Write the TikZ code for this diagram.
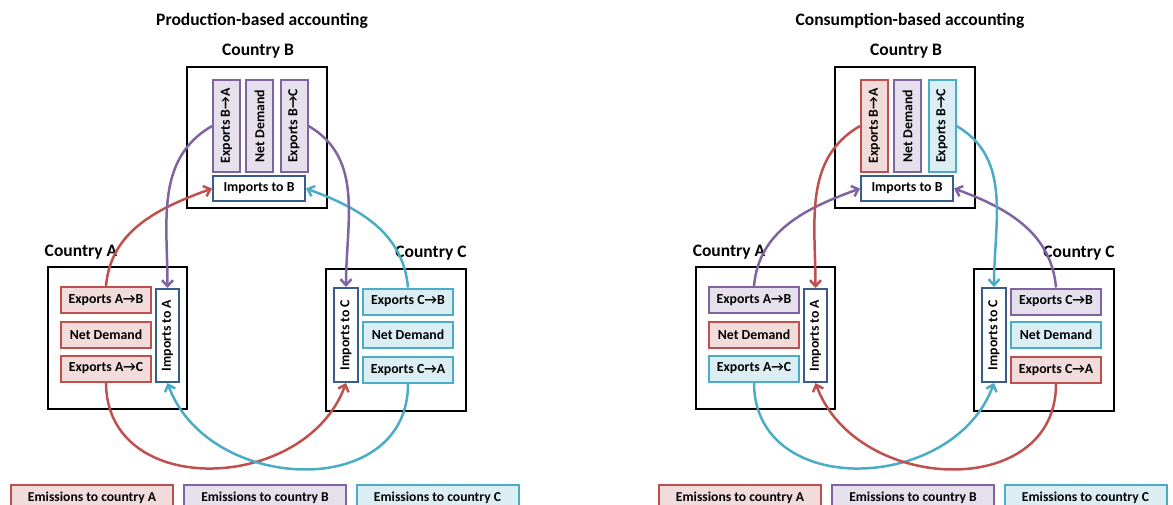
\documentclass[tikz,border=0pt]{standalone}
\usepackage{fontspec}
\setmainfont{Carlito}
\usepackage{graphicx}
\usetikzlibrary{arrows.meta}
\definecolor{redline}{HTML}{C0504D}
\definecolor{redfill}{HTML}{F2DCDB}
\definecolor{purline}{HTML}{8064A2}
\definecolor{purfill}{HTML}{E5E0EC}
\definecolor{cyaline}{HTML}{4BACC6}
\definecolor{cyafill}{HTML}{DBEEF4}
\definecolor{impline}{HTML}{385D8A}
\tikzset{
  frame/.style={draw=black, line width=2pt},
  boxtext/.style={font=\fontsize{13.8}{15}\selectfont\bfseries},
  hbox/.style={draw=#1line, fill=#1fill, line width=2pt, inner sep=0pt,
    minimum width=90pt, minimum height=26pt, boxtext},
  vbox/.style={hbox=#1, minimum width=27pt, minimum height=92pt},
  impbox/.style={draw=impline, fill=white, line width=2pt, inner sep=0pt, boxtext},
  heading/.style={font=\fontsize{17.5}{19}\selectfont\bfseries},
  legendbox/.style={hbox=#1, minimum width=162pt, font=\fontsize{13.6}{15}\selectfont\bfseries},
  flow/.style={draw=#1line, line width=2.5pt, -{Straight Barb[length=6pt,width=11pt]}}
}
\begin{document}
\begin{tikzpicture}[x=1pt, y=-1pt]
  \useasboundingbox (0,0) rectangle (1173,504);
  \clip (0,0) rectangle (1173,504);

  \foreach \pan/\shift/\ttl/\cBA/\cBN/\cBC/\cAB/\cAN/\cAC/\cCB/\cCN/\cCA in
    {L/0/Production-based accounting/pur/pur/pur/red/red/red/cya/cya/cya,
     R/648/Consumption-based accounting/red/pur/cya/pur/red/cya/pur/cya/red}{
  \begin{scope}[shift={(\shift,0)}]
    \node[heading] (\pan-title) at (262,21) {\ttl};

    % country B
    \node[heading] (\pan-nameB) at (258,51) {Country B};
    \draw[frame] (187,67) rectangle (327,208);
    \node[vbox=\cBA] (\pan-ba) at (226.5,126) {\rotatebox{90}{Exports B→A}};
    \node[vbox=\cBN] (\pan-bn) at (259.5,126) {\rotatebox{90}{Net Demand}};
    \node[vbox=\cBC] (\pan-bc) at (294,126) {\rotatebox{90}{Exports B→C}};
    \node[impbox, minimum width=92pt, minimum height=25pt] (\pan-ib) at (259,188.5) {Imports to B};

    % country A
    \node[heading] (\pan-nameA) at (81,252) {Country A};
    \draw[frame] (48,267) rectangle (187,409);
    \node[hbox=\cAB] (\pan-ab) at (106,300) {Exports A→B};
    \node[hbox=\cAN] (\pan-an) at (106,335) {Net Demand};
    \node[hbox=\cAC] (\pan-ac) at (106,368.5) {Exports A→C};
    \node[impbox, minimum width=23pt, minimum height=93pt] (\pan-ia) at (167.5,335.5) {\rotatebox{90}{Imports to A}};

    % country C
    \node[heading] (\pan-nameC) at (431,253) {Country C};
    \draw[frame] (326,269) rectangle (466,411);
    \node[impbox, minimum width=24pt, minimum height=94pt] (\pan-ic) at (346,335) {\rotatebox{90}{Imports to C}};
    \node[hbox=\cCB] (\pan-cb) at (408,301.5) {Exports C→B};
    \node[hbox=\cCN] (\pan-cn) at (408,335) {Net Demand};
    \node[hbox=\cCA] (\pan-ca) at (408,370) {Exports C→A};

    % flows
    \draw[flow=\cAB] (\pan-ab.north) to[out=85, in=200] (\pan-ib.west);
    \draw[flow=\cCB] (\pan-cb.north) to[out=95, in=-20] (\pan-ib.east);
    \draw[flow=\cBA] (\pan-ba.west) to[out=210, in=90] (\pan-ia.north);
    \draw[flow=\cBC] (\pan-bc.east) to[out=-30, in=90] (\pan-ic.north);
    \draw[flow=\cAC] (\pan-ac.south) to[out=-90, in=-110, looseness=1.25] (\pan-ic.south);
    \draw[flow=\cCA] (\pan-ca.south) to[out=-90, in=-70, looseness=1.25] (\pan-ia.south);

    % legend
    \node[legendbox=red] (\pan-legA) at (92,498) {Emissions to country A};
    \node[legendbox=pur] (\pan-legB) at (265,498) {Emissions to country B};
    \node[legendbox=cya] (\pan-legC) at (437.5,498) {Emissions to country C};
  \end{scope}
  }
\end{tikzpicture}
\end{document}
